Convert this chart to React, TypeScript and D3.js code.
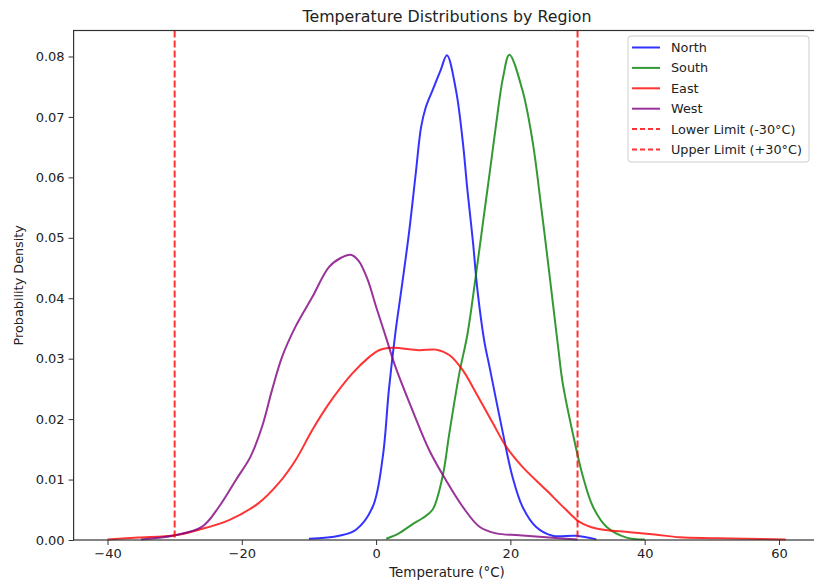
import React, { useEffect, useRef } from 'react';
import * as d3 from 'd3';

// density curves: [temperature, density]
const northPts: [number, number][] = [
  [-10, 0.0002], [-5.5, 0.0007], [-3, 0.0017], [-0.5, 0.0055], [1, 0.0138], [1.9, 0.0248],
  [2.9, 0.0345], [3.9, 0.0425], [4.9, 0.0508], [5.9, 0.0606], [6.7, 0.0683], [7.4, 0.0716],
  [8.4, 0.0744], [9.6, 0.0777], [10.55, 0.0802], [11.9, 0.0744], [12.9, 0.066], [13.6, 0.0579],
  [14.4, 0.0496], [15.1, 0.0413], [16.1, 0.033], [16.9, 0.0286], [18.9, 0.0176], [20.3, 0.0105],
  [21.8, 0.0055], [23.8, 0.0022], [26.3, 0.0007], [29.8, 0.0007], [32.8, 0.0001],
];
const southPts: [number, number][] = [
  [1.5, 0.0002], [3.4, 0.0011], [5.4, 0.0026], [6.9, 0.0036], [8.4, 0.005], [9.9, 0.0105],
  [10.9, 0.0176], [12.4, 0.0276], [13.6, 0.034], [14.9, 0.0441], [15.9, 0.0524], [16.9, 0.0606],
  [17.9, 0.069], [18.9, 0.0765], [19.85, 0.0803], [21.8, 0.0744], [23.3, 0.066], [24.6, 0.055],
  [25.8, 0.0441], [27.1, 0.032], [27.8, 0.0259], [29.3, 0.0176], [30.8, 0.0105], [32.3, 0.0055],
  [34.3, 0.0022], [37.3, 0.0004], [40, 0.0001],
];
const eastPts: [number, number][] = [
  [-40, 0.0001], [-35.4, 0.0004], [-29.9, 0.0008], [-26.4, 0.0017], [-21.9, 0.0033],
  [-17.5, 0.0061], [-14.5, 0.0094], [-12, 0.0132], [-9.5, 0.0182], [-7, 0.0226], [-3.5, 0.0276],
  [-1, 0.0303], [0.45, 0.0314], [2.4, 0.0318], [6.4, 0.0314], [8.9, 0.0315], [10.9, 0.0306],
  [12.9, 0.0281], [14.9, 0.0243], [17.4, 0.0193], [19.4, 0.0154], [21.8, 0.0121], [25.3, 0.0083],
  [28.3, 0.005], [30.3, 0.003], [32.8, 0.0019], [37.8, 0.0013], [41.5, 0.0009], [45.2, 0.00045],
  [50, 0.0003], [55, 0.0002], [61, 0.0001],
];
const westPts: [number, number][] = [
  [-35, 0.0001], [-29.9, 0.0008], [-25.9, 0.0022], [-23.4, 0.0055], [-20.9, 0.0099],
  [-18.7, 0.0138], [-17, 0.0187], [-15.5, 0.0248], [-14, 0.0303], [-12, 0.0353], [-9.5, 0.0402],
  [-7, 0.0452], [-5.2, 0.0467], [-3.8, 0.0472], [-2.6, 0.0462], [-1.3, 0.0432], [0, 0.0386],
  [1.45, 0.0336], [2.9, 0.0286], [5.4, 0.0215], [7.9, 0.0149], [10.4, 0.0099], [12.9, 0.0055],
  [15.4, 0.0022], [17.9, 0.0011], [21.3, 0.0008], [25.3, 0.00045], [30, 0.0001],
];

const seriesNames = ['North', 'South', 'East', 'West'];
const seriesColors = ['blue', 'green', 'red', 'purple'];
const seriesData = [northPts, southPts, eastPts, westPts];
const limitValues = [-30, 30];
const limitLabels = ['Lower Limit (-30°C)', 'Upper Limit (+30°C)'];
const xTicks = [-40, -20, 0, 20, 40, 60];
const yTicks = [0, 0.01, 0.02, 0.03, 0.04, 0.05, 0.06, 0.07, 0.08];

export default function App() {
  const ref = useRef<SVGSVGElement>(null);
  useEffect(() => {
    const W = 814, H = 582;
    // the right spine falls just outside the picture
    const m = { left: 73.6, right: 819.6, top: 30.5, bottom: 540 };
    const svg = d3.select(ref.current).attr('width', W).attr('height', H);
    svg.selectAll('*').remove();
    const font = 'DejaVu Sans, sans-serif';

    const x = d3.scaleLinear().domain([-45.05, 66.05]).range([m.left, m.right]);
    const y = d3.scaleLinear().domain([0, 0.0843]).range([m.bottom, m.top]);

    const line = d3.line<[number, number]>()
      .x(d => x(d[0])).y(d => y(Math.max(0, d[1])))
      .curve(d3.curveCatmullRom.alpha(0.5));

    const g = svg.append('g');
    seriesData.forEach((pts, i) => {
      g.append('path').attr('d', line(pts)).attr('fill', 'none')
        .attr('stroke', seriesColors[i]).attr('stroke-opacity', 0.8)
        .attr('stroke-width', 2);
    });
    limitValues.forEach(v => {
      g.append('line').attr('x1', x(v)).attr('x2', x(v))
        .attr('y1', m.top).attr('y2', m.bottom)
        .attr('stroke', 'red').attr('stroke-opacity', 0.8)
        .attr('stroke-width', 2).attr('stroke-dasharray', '7,3');
    });

    // axes
    const xAxis = svg.append('g').attr('transform', `translate(0,${m.bottom})`)
      .call(d3.axisBottom(x).tickValues(xTicks).tickSize(5).tickPadding(4)
        .tickFormat(d => (+d < 0 ? '\u2212' + Math.abs(+d) : String(d))));
    const yAxis = svg.append('g').attr('transform', `translate(${m.left},0)`)
      .call(d3.axisLeft(y).tickValues(yTicks).tickSize(5).tickPadding(4).tickFormat(d3.format('.2f')));
    [xAxis, yAxis].forEach(a => {
      a.select('.domain').remove();
      a.selectAll('line').attr('stroke', '#333');
      a.selectAll('text').attr('font-family', font).attr('font-size', 13).attr('fill', '#222');
    });

    // spines
    svg.append('rect').attr('x', m.left).attr('y', m.top)
      .attr('width', m.right - m.left).attr('height', m.bottom - m.top)
      .attr('fill', 'none').attr('stroke', '#333').attr('stroke-width', 1.2);

    svg.append('text').attr('x', 447).attr('y', 22)
      .attr('text-anchor', 'middle').attr('font-family', font).attr('font-size', 15.8)
      .attr('fill', '#222').text('Temperature Distributions by Region');
    svg.append('text').attr('x', 447).attr('y', 577)
      .attr('text-anchor', 'middle').attr('font-family', font).attr('font-size', 13.4)
      .attr('fill', '#222').text('Temperature (°C)');
    svg.append('text').attr('transform', `translate(23,${(m.top + m.bottom) / 2}) rotate(-90)`)
      .attr('text-anchor', 'middle').attr('font-family', font).attr('font-size', 12.8)
      .attr('fill', '#222').text('Probability Density');

    // legend
    const lg = svg.append('g').attr('transform', 'translate(628,36)');
    lg.append('rect').attr('width', 181).attr('height', 126).attr('rx', 3)
      .attr('fill', 'white').attr('fill-opacity', 0.8).attr('stroke', '#ccc');
    const entries = [
      ...seriesNames.map((n, i) => ({ label: n, color: seriesColors[i], dash: null as string | null })),
      ...limitLabels.map(l => ({ label: l, color: 'red', dash: '5,3' })),
    ];
    entries.forEach((e, i) => {
      const yy = 11.5 + i * 20.4;
      lg.append('line').attr('x1', 4).attr('x2', 32).attr('y1', yy).attr('y2', yy)
        .attr('stroke', e.color).attr('stroke-opacity', 0.8).attr('stroke-width', 2)
        .attr('stroke-dasharray', e.dash);
      lg.append('text').attr('x', 43).attr('y', yy + 4.5).attr('font-family', font)
        .attr('font-size', 12.8).attr('fill', '#222').text(e.label);
    });
  }, []);
  return <svg ref={ref} style={{ position: 'absolute', left: 0, top: 0 }} />;
}
